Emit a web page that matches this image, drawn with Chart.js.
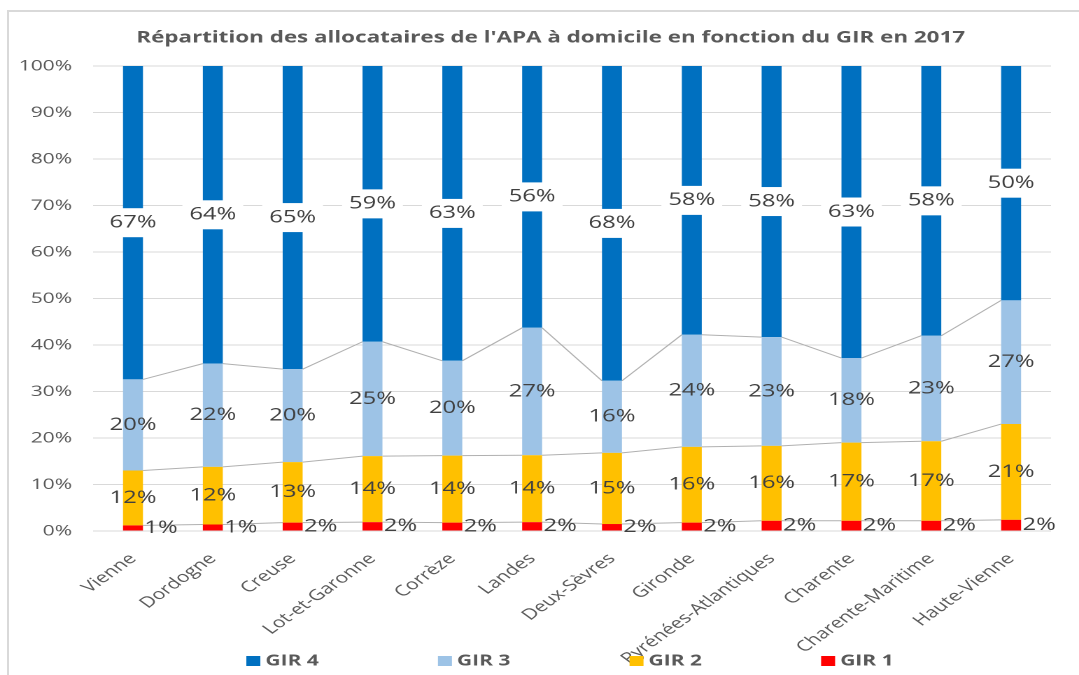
<!DOCTYPE html>
<html>
<head>
<meta charset="utf-8">
<script src="https://cdn.jsdelivr.net/npm/chart.js@4"></script>
<style>
    body { margin: 0; background: #fff; }
    #wrap { position: relative; width: 1079px; height: 675px; overflow: hidden; background: #fff; }
    #chart { position: absolute; left: 0; top: 0; transform-origin: 0 0; }
    .edge { position: absolute; background: #d9d9d9; }
</style>
</head>
<body>
<div id="wrap">
    <canvas id="chart" width="771" height="675"></canvas>
    <div class="edge" style="left:7px; top:10px; width:1072px; height:2px;"></div>
    <div class="edge" style="left:7px; top:10px; width:2px; height:665px;"></div>
</div>
<script>
const categories = ['Vienne', 'Dordogne', 'Creuse', 'Lot-et-Garonne', 'Corrèze', 'Landes',
    'Deux-Sèvres', 'Gironde', 'Pyrénées-Atlantiques', 'Charente', 'Charente-Maritime', 'Haute-Vienne'];
const seriesNames = ['GIR 1', 'GIR 2', 'GIR 3', 'GIR 4'];
const gir1 = [1.2, 1.4, 1.8, 1.9, 1.8, 1.9, 1.5, 1.8, 2.2, 2.2, 2.2, 2.4];
const gir2 = [11.8, 12.4, 13.0, 14.2, 14.4, 14.4, 15.3, 16.3, 16.1, 16.8, 17.1, 20.6];
const gir3 = [19.6, 22.2, 20.0, 24.6, 20.4, 27.4, 15.5, 24.1, 23.4, 18.2, 22.7, 26.6];
const gir4 = [67.4, 64.0, 65.2, 59.3, 63.4, 56.3, 67.7, 57.8, 58.3, 62.8, 58.0, 50.4];
const yTicks = [0, 10, 20, 30, 40, 50, 60, 70, 80, 90, 100];
const chartTitle = "Répartition des allocataires de l'APA à domicile en fonction du GIR en 2017";

const colors = ['#FF0000', '#FFC000', '#9DC3E6', '#0070C0'];
const textGray = '#595959';

// the original picture is an Excel chart stretched sideways, so we stretch the canvas too
const canvas = document.getElementById('chart');
canvas.style.transform = 'scaleX(' + (1079 / 771) + ')';

const titlePlugin = {
    id: 'titlePlugin',
    afterDraw(chart) {
        const ctx = chart.ctx;
        ctx.save();
        ctx.font = 'bold 16px "Open Sans"';
        ctx.fillStyle = textGray;
        ctx.textAlign = 'center';
        ctx.textBaseline = 'middle';
        ctx.fillText(chartTitle, chart.width / 2 + 8, 38);
        ctx.restore();
    }
};

const seriesLines = {
    id: 'seriesLines',
    beforeDatasetsDraw(chart) {
        const ctx = chart.ctx;
        ctx.save();
        ctx.strokeStyle = '#b0b0b0';
        ctx.lineWidth = 1;
        for (let d = 0; d < 3; d++) {
            const bars = chart.getDatasetMeta(d).data;
            for (let i = 0; i < bars.length - 1; i++) {
                const a = bars[i], b = bars[i + 1];
                ctx.beginPath();
                ctx.moveTo(a.x + a.width / 2, a.y);
                ctx.lineTo(b.x - b.width / 2, b.y);
                ctx.stroke();
            }
        }
        ctx.restore();
    }
};

const barLabels = {
    id: 'barLabels',
    afterDatasetsDraw(chart) {
        const ctx = chart.ctx;
        ctx.save();
        ctx.font = '17px "Open Sans"';
        ctx.textBaseline = 'middle';
        chart.data.datasets.forEach((ds, d) => {
            chart.getDatasetMeta(d).data.forEach((bar, i) => {
                const txt = Math.round(ds.data[i]) + '%';
                const cy = (bar.y + bar.base) / 2;
                if (d == 0) {
                    ctx.textAlign = 'left';
                    ctx.fillStyle = '#404040';
                    ctx.fillText(txt, bar.x + bar.width / 2 + 1, cy);
                    return;
                }
                ctx.textAlign = 'center';
                if (d == 3) {
                    const w = ctx.measureText(txt).width + 10;
                    ctx.fillStyle = '#fff';
                    ctx.fillRect(bar.x - w / 2, cy - 14.5, w, 29);
                }
                ctx.fillStyle = '#404040';
                ctx.fillText(txt, bar.x, cy);
            });
        });
        ctx.restore();
    }
};

const bottomLegend = {
    id: 'bottomLegend',
    afterDraw(chart) {
        const ctx = chart.ctx;
        const area = chart.chartArea;
        const step = area.width / 5;
        const y = 661;
        ctx.save();
        ctx.font = 'bold 15px "Open Sans"';
        ctx.textBaseline = 'middle';
        ctx.textAlign = 'left';
        for (let k = 0; k < 4; k++) {
            const d = 3 - k;
            const x = area.left + area.width * 0.16 + k * step;
            ctx.fillStyle = colors[d];
            ctx.fillRect(x, y - 5, 10, 10);
            ctx.fillStyle = textGray;
            ctx.fillText(seriesNames[d], x + 13.6, y);
        }
        ctx.restore();
    }
};

new Chart(canvas, {
    type: 'bar',
    data: {
        labels: categories,
        datasets: [gir1, gir2, gir3, gir4].map((vals, d) => ({
            label: seriesNames[d],
            data: vals,
            backgroundColor: colors[d],
            barPercentage: 0.25,
            categoryPercentage: 1
        }))
    },
    options: {
        responsive: false,
        animation: false,
        devicePixelRatio: 2,
        layout: { padding: { left: 0, right: 20, top: 66, bottom: 0 } },
        plugins: {
            legend: { display: false },
            tooltip: { enabled: false },
            title: { display: false }
        },
        scales: {
            x: {
                stacked: true,
                grid: { display: false },
                border: { display: false },
                ticks: {
                    color: textGray,
                    font: { family: 'Open Sans', size: 15 },
                    minRotation: 45,
                    maxRotation: 45,
                    autoSkip: false,
                    padding: 11
                },
                afterFit(scale) { scale.height = 144; }
            },
            y: {
                stacked: true,
                min: 0,
                max: 100,
                afterBuildTicks(scale) { scale.ticks = yTicks.map(v => ({ value: v })); },
                grid: { color: '#d9d9d9', drawTicks: false },
                border: { display: false },
                ticks: {
                    color: textGray,
                    font: { family: 'Open Sans', size: 15 },
                    padding: 15,
                    callback: v => v + '%'
                },
                afterFit(scale) { scale.width = 66.5; }
            }
        }
    },
    plugins: [titlePlugin, seriesLines, barLabels, bottomLegend]
});
</script>
</body>
</html>
